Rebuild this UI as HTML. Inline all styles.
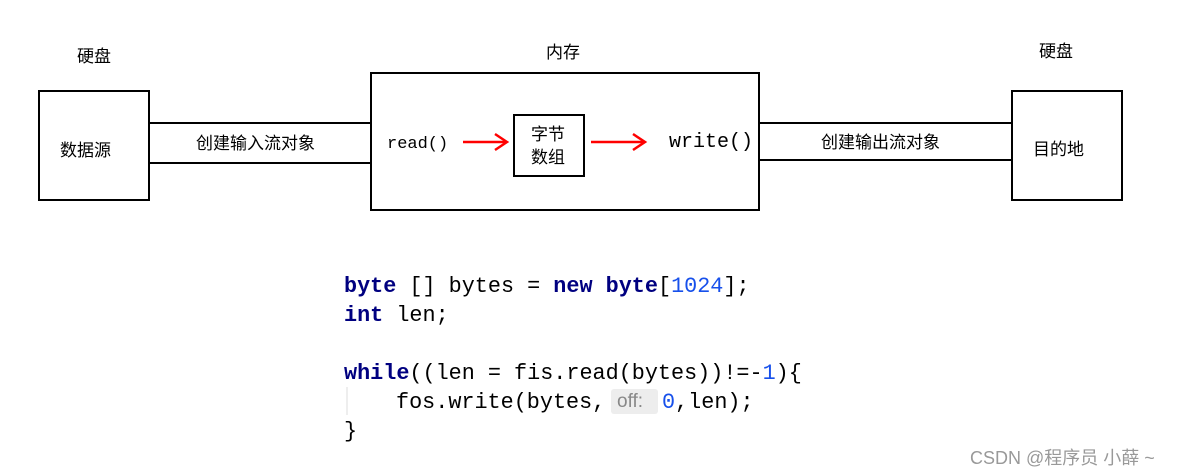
<!DOCTYPE html>
<html><head><meta charset="utf-8"><style>
body{margin:0;background:#fff;}
svg{display:block}
.cn{font-family:"Liberation Sans","Noto Sans CJK SC",sans-serif;}
.mono{font-family:"Liberation Mono",monospace;}
.code{font-family:"Liberation Mono",monospace;font-size:21.8px;fill:#000;}
.kw{fill:#000080;font-weight:bold}
.num{fill:#1750eb}
</style></head><body>
<svg width="1180" height="476" xmlns="http://www.w3.org/2000/svg">
<g fill="none" stroke="#000" stroke-width="2">
<rect x="39" y="91" width="110" height="109"/>
<rect x="371" y="73" width="388" height="137"/>
<rect x="514" y="115" width="70" height="61"/>
<rect x="1012" y="91" width="110" height="109"/>
<line x1="149" y1="123" x2="371" y2="123"/>
<line x1="149" y1="163" x2="371" y2="163"/>
<line x1="759" y1="123" x2="1012" y2="123"/>
<line x1="759" y1="160" x2="1012" y2="160"/>
</g>
<g stroke="#f00" stroke-width="2.5" fill="none">
<line x1="463" y1="142" x2="507" y2="142"/><polyline points="495,134 507,142 495,150"/>
<line x1="591" y1="142" x2="645" y2="142"/><polyline points="633,134 645,142 633,150"/>
</g>
<g class="cn" font-size="17" fill="#000">
<text x="77" y="62">硬盘</text>
<text x="546" y="58">内存</text>
<text x="1039" y="57">硬盘</text>
<text x="60" y="156">数据源</text>
<text x="196" y="149">创建输入流对象</text>
<text x="821" y="148">创建输出流对象</text>
<text x="1033" y="155">目的地</text>
<text x="531" y="140">字节</text>
<text x="531" y="163">数组</text>
</g>
<text class="mono" x="387" y="148" font-size="17">read()</text>
<text class="mono" x="669" y="147" font-size="20">write()</text>
<g class="code">
<text x="344" y="292" xml:space="preserve"><tspan class="kw">byte</tspan> [] bytes = <tspan class="kw">new</tspan> <tspan class="kw">byte</tspan>[<tspan class="num">1024</tspan>];</text>
<text x="344" y="321" xml:space="preserve"><tspan class="kw">int</tspan> len;</text>
<text x="344" y="379" xml:space="preserve"><tspan class="kw">while</tspan>((len = fis.read(bytes))!=-<tspan class="num">1</tspan>){</text>
<text x="344" y="437">}</text>
</g>
<line x1="347" y1="387" x2="347" y2="415" stroke="#ddd" stroke-width="1"/>
<rect x="611" y="389" width="47" height="25" rx="3" fill="#ededed"/>
<text class="code" x="396" y="408" xml:space="preserve">fos.write(bytes,</text>
<text class="cn" x="617" y="407" font-size="19" fill="#888">off:</text>
<text class="code" x="662" y="408"><tspan class="num">0</tspan>,len);</text>
<text class="cn" x="970" y="464" font-size="18" fill="#999">CSDN @程序员 小薛 ~</text>
</svg>
</body></html>
